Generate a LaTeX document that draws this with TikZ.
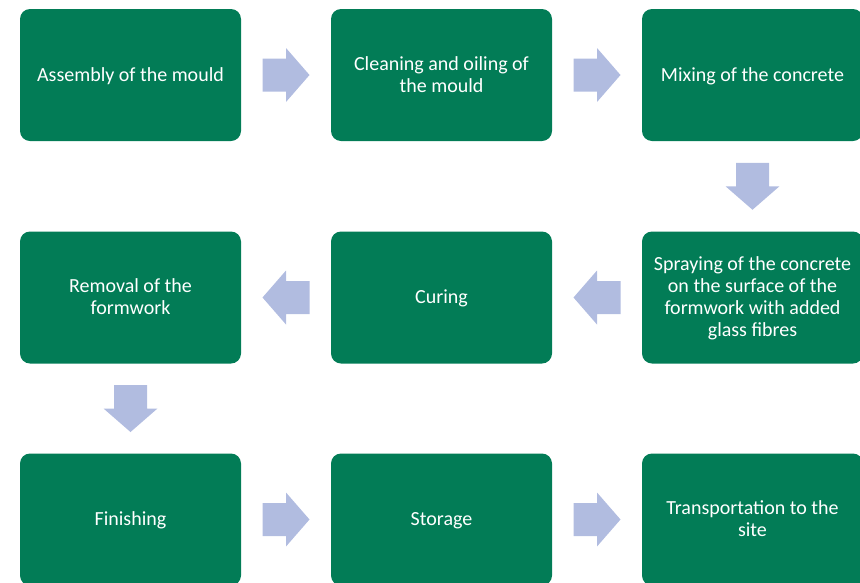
\documentclass[tikz,border=0pt]{standalone}
\usepackage{fontspec}
\setmainfont{Carlito}
\usetikzlibrary{calc}
\definecolor{boxgreen}{RGB}{2,124,86}
\definecolor{arrowblue}{RGB}{177,188,224}
\newcommand\boxtext[1]{\raisebox{-2pt}[\height][\depth]{\begin{tabular}{@{}c@{}}#1\end{tabular}}}
\tikzset{
  stepbox/.style={fill=boxgreen, draw=none, rounded corners=10pt,
    minimum width=221pt, minimum height=132pt, inner sep=0pt,
    text=white, align=center, font=\fontsize{20pt}{22pt}\selectfont},
  pics/barrow/.style={code={
    \fill[arrowblue] (-23.5pt,16.5pt) -- (0pt,16.5pt) -- (0pt,27pt) -- (23.5pt,0pt)
      -- (0pt,-27pt) -- (0pt,-16.5pt) -- (-23.5pt,-16.5pt) -- cycle;}}
}
\begin{document}
\begin{tikzpicture}[x=1pt,y=-1pt]
\useasboundingbox (0,0) rectangle (860,582);
% row 1
\node[stepbox] (b1) at (130.5,75) {\boxtext{Assembly of the mould}};
\node[stepbox] (b2) at (441.5,75) {\boxtext{Cleaning and oiling of\\the mould}};
\node[stepbox] (b3) at (752.5,75) {\boxtext{Mixing of the concrete}};
% row 2
\node[stepbox] (b4) at (752.5,297.5) {\boxtext{Spraying of the concrete\\on the surface of the\\formwork with added\\glass fibres}};
\node[stepbox] (b5) at (441.5,297.5) {\boxtext{Curing}};
\node[stepbox] (b6) at (130.5,297.5) {\boxtext{Removal of the\\formwork}};
% row 3
\node[stepbox] (b7) at (130.5,519.5) {\boxtext{Finishing}};
\node[stepbox] (b8) at (441.5,519.5) {\boxtext{Storage}};
\node[stepbox] (b9) at (752.5,519.5) {\boxtext{Transportation to the\\site}};
% arrows
\pic at ($(b1.east)!0.5!(b2.west)$) {barrow};
\pic at ($(b2.east)!0.5!(b3.west)$) {barrow};
\pic[rotate=-90] at ($(b3.south)!0.5!(b4.north)$) {barrow};
\pic[rotate=180] at ($(b4.west)!0.5!(b5.east)$) {barrow};
\pic[rotate=180] at ($(b5.west)!0.5!(b6.east)$) {barrow};
\pic[rotate=-90] at ($(b6.south)!0.5!(b7.north)$) {barrow};
\pic at ($(b7.east)!0.5!(b8.west)$) {barrow};
\pic at ($(b8.east)!0.5!(b9.west)$) {barrow};
\end{tikzpicture}
\end{document}
